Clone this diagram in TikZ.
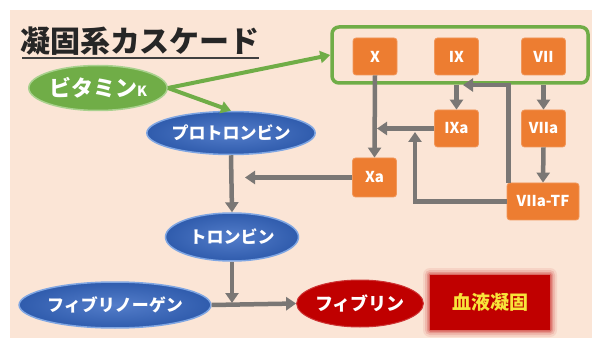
\documentclass[tikz,border=0pt]{standalone}
\usepackage{fontspec}
\newfontfamily\jp{Noto Sans CJK JP}
\usetikzlibrary{arrows.meta,shapes.geometric,calc}
\definecolor{peach}{HTML}{FBE5D6}
\definecolor{grn}{HTML}{70AD47}
\definecolor{grnlt}{HTML}{A9D18E}
\definecolor{org}{HTML}{ED7D31}
\definecolor{gry}{HTML}{7A7775}
\definecolor{blu}{HTML}{3566C0}
\definecolor{blult}{HTML}{7FA6E3}
\definecolor{rd}{HTML}{C00000}
\definecolor{ylw}{HTML}{F8E43A}
\tikzset{
  fac/.style={draw=org!80!white, line width=0.8pt, fill=org, rounded corners=3pt, text=white,
    font=\jp\bfseries\fontsize{15}{15}\selectfont, inner sep=0pt},
  bell/.style={ellipse, draw=blult, line width=1.5pt, inner color=blu!85!white, outer color=blu!90!black, text=white,
    font=\jp\bfseries\fontsize{17}{17}\selectfont, inner sep=0pt},
  garr/.style={draw=gry, line width=4.5pt, -{Triangle[width=13pt,length=10pt]}},
  grarr/.style={draw=grn, line width=4pt, -{Triangle[width=12pt,length=10pt]}},
}
\begin{document}
\begin{tikzpicture}[x=1pt,y=-1pt]
\useasboundingbox (0,0) rectangle (595,342);
\fill[white] (0,0) rectangle (595,342);
\fill[peach] (10,10) rectangle (592,338);
% title
\node[font=\jp\bfseries\fontsize{30}{30}\selectfont, text=black!85, inner sep=0pt] (title) at (140,41) {凝固系カスケード};
\draw[black!75, line width=1.5pt] (22,58) -- (259,58);
% green box
\node[draw=grn, line width=3.5pt, rounded corners=7pt, minimum width=256pt, minimum height=56pt, inner sep=0pt] (gbox) at (460,55) {};
% factors
\node[fac, minimum width=44pt, minimum height=37pt] (X) at (375,56.5) {X};
\node[fac, minimum width=44pt, minimum height=37pt] (IX) at (456.5,56.5) {IX};
\node[fac, minimum width=44pt, minimum height=37pt] (VII) at (543.5,56.5) {VII};
\node[fac, minimum width=44pt, minimum height=37pt] (IXa) at (456.5,128.5) {IXa};
\node[fac, minimum width=44pt, minimum height=37pt] (VIIa) at (543.5,128.5) {VIIa};
\node[fac, minimum width=44pt, minimum height=39pt] (Xa) at (374.5,177.5) {Xa};
\node[fac, minimum width=72pt, minimum height=37pt] (VTF) at (543,201.5) {VIIa-TF};
% ellipses
\node[ellipse, draw=grnlt, line width=1.5pt, fill=grn, text=white, minimum width=137pt, minimum height=45pt, inner sep=0pt,
  font=\jp\bfseries\fontsize{22}{22}\selectfont] (vitk) at (98,88) {ビタミン{\fontsize{14}{14}\selectfont K}};
\node[bell, minimum width=160pt, minimum height=43pt] (pro) at (231,133) {プロトロンビン};
\node[bell, minimum width=133pt, minimum height=48pt] (thr) at (232,237) {トロンビン};
\node[bell, minimum width=176pt, minimum height=46pt] (fbg) at (115,305) {フィブリノーゲン};
\node[ellipse, draw=rd!80!white, line width=1pt, fill=rd, text=white, minimum width=116pt, minimum height=47pt, inner sep=0pt,
  font=\jp\bfseries\fontsize{18}{18}\selectfont] (fbn) at (360,303.5) {フィブリン};
% glowing box
\foreach \g/\o in {7/0.08,5/0.12,3/0.18,1.5/0.3}{
  \fill[rd, opacity=\o, rounded corners=\g pt] (430-\g,275-\g) rectangle (550+\g,330+\g);
}
\node[fill=rd, minimum width=120pt, minimum height=55pt, inner sep=0pt, text=ylw,
  font=\jp\bfseries\fontsize{19}{19}\selectfont] (ket) at (490,302.5) {血液凝固};
% coordinates
\coordinate (j1) at (415,130);
\coordinate (j2) at (463,85);
\coordinate (j3) at (232,303);
% connectors
\draw[grarr] (vitk.east) -- (gbox.west);
\draw[grarr] (vitk.east) -- (pro.north);
\draw[garr] (X.south) -- (Xa.north);
\draw[garr] (IX.south |- gbox.south) -- (IXa.north);
\draw[garr] (VII.south |- gbox.south) -- (VIIa.north);
\draw[garr] (VIIa.south) -- (VTF.north);
\draw[garr, shorten >=2pt] (IXa.west) -- (X.south |- IXa.west);
\draw[garr, shorten >=2pt] (VTF.west) -| (j1);
\draw[garr] ([xshift=2pt]VTF.north west) |- (j2);
\draw[garr, shorten >=14pt] (Xa.west) -- (pro.south |- Xa.west);
\draw[garr] (pro.south) -- (thr.north);
\draw[garr] (fbg.east) -- (fbn.west);
\draw[garr] (thr.south) -- (j3);
\end{tikzpicture}
\end{document}
